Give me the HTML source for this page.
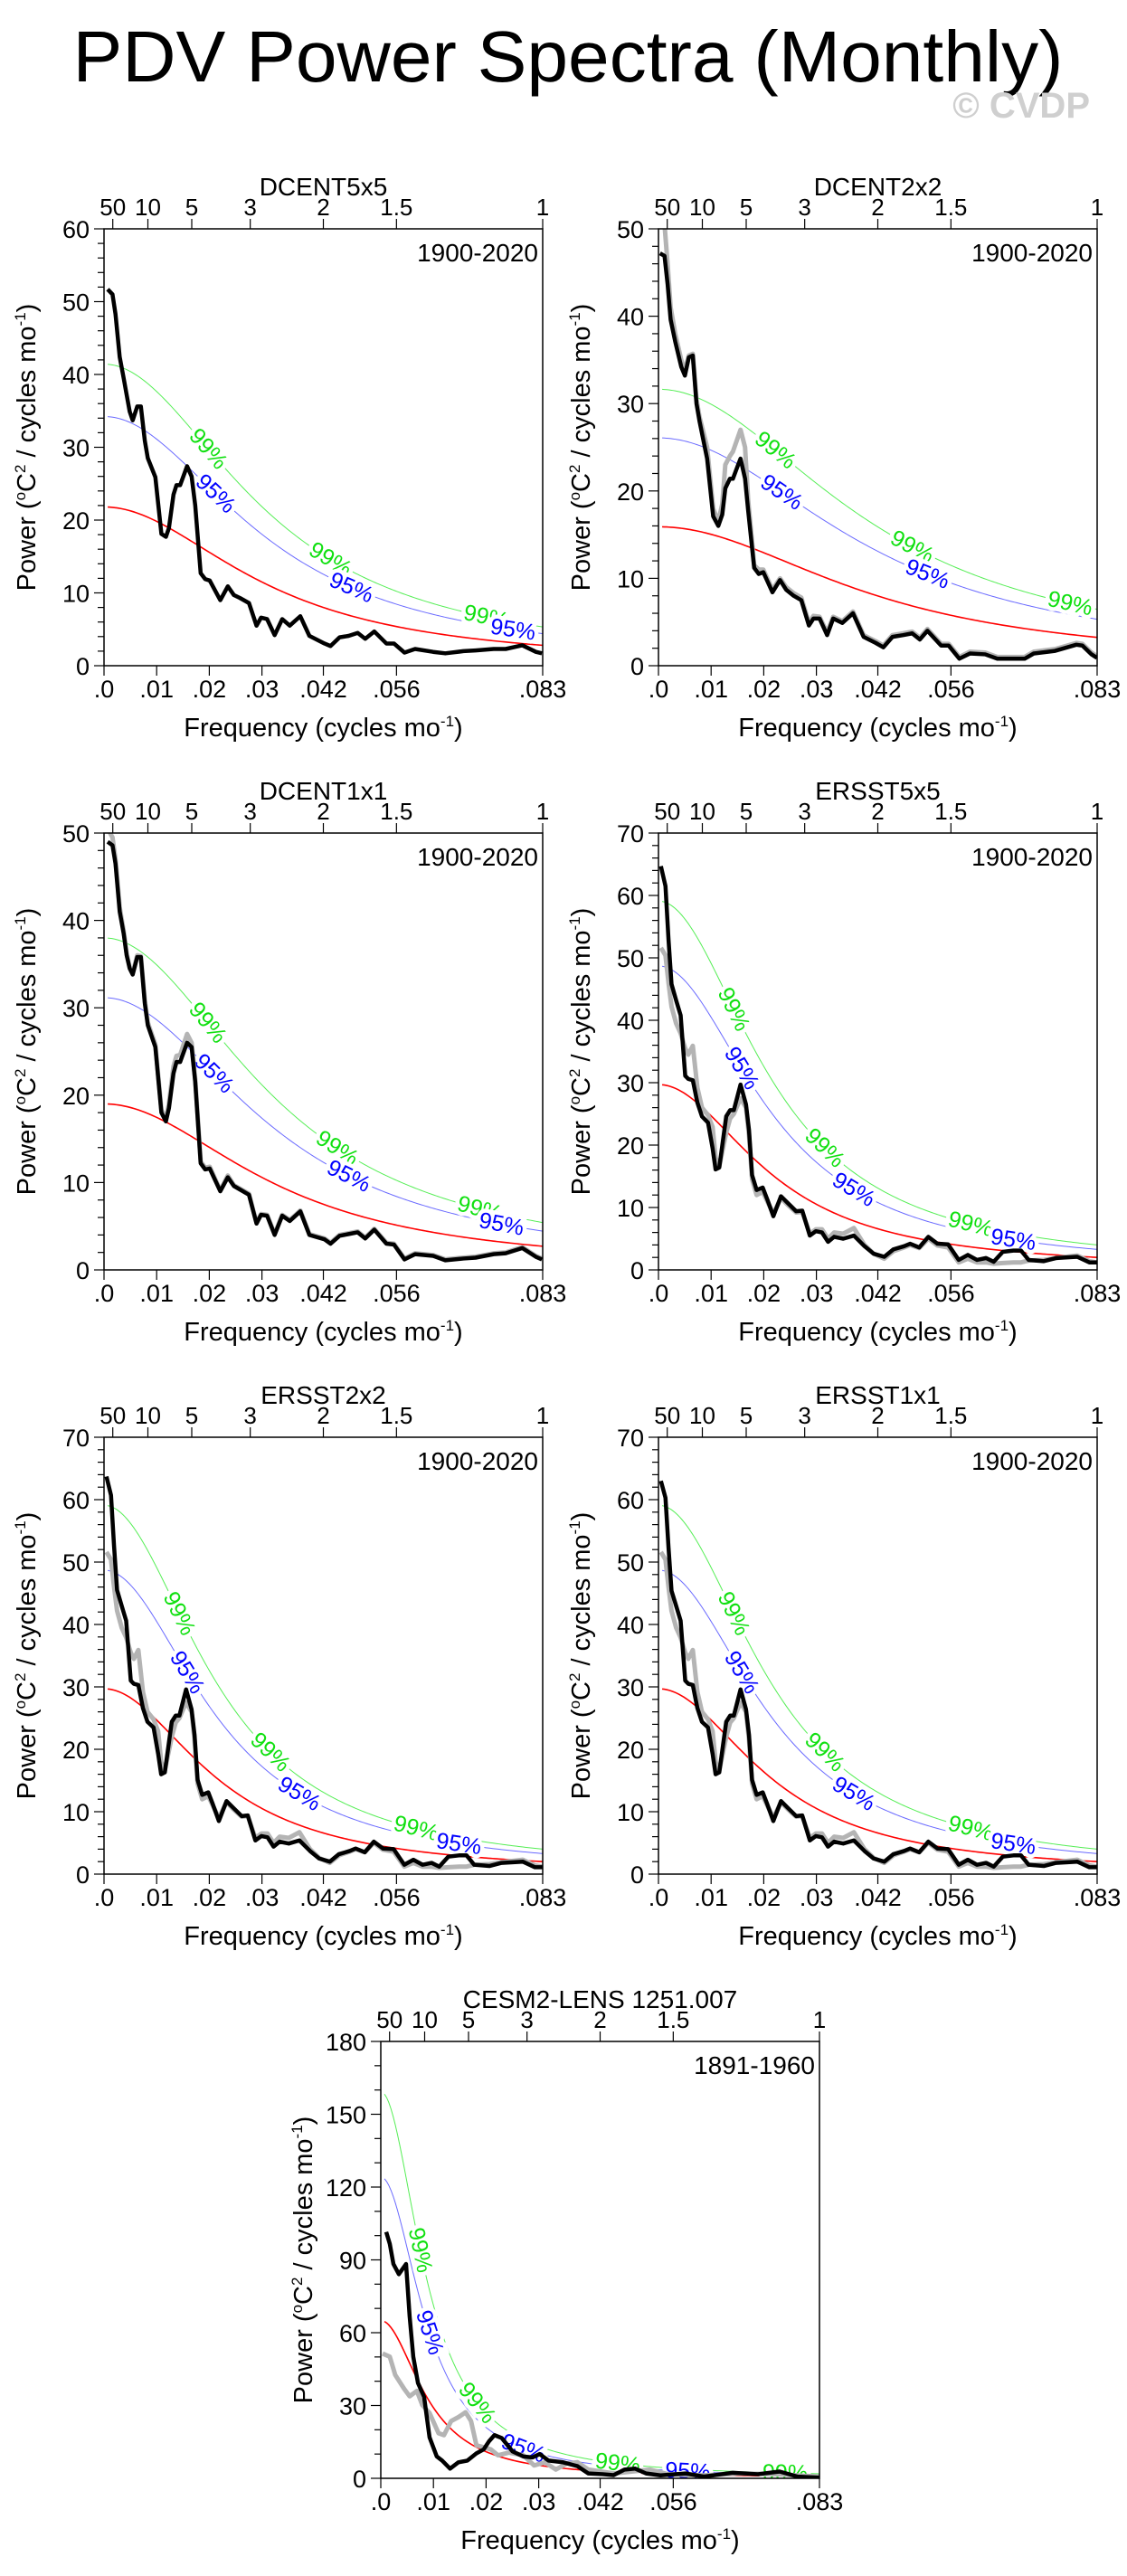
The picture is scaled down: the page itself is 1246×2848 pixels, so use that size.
<!DOCTYPE html>
<html><head><meta charset="utf-8">
<style>
html,body{margin:0;padding:0;background:#fff;}
svg{display:block;font-family:"Liberation Sans",Arial,sans-serif;}
</style></head>
<body>
<svg id="fig" xmlns="http://www.w3.org/2000/svg" width="1246" height="2848" viewBox="0 0 1246 2848">
<rect x="0" y="0" width="1246" height="2848" fill="#fff"/>
<text x="628" y="90" font-size="80" text-anchor="middle" textLength="1095" lengthAdjust="spacingAndGlyphs" fill="#000">PDV Power Spectra (Monthly)</text>
<text x="1205" y="130" font-size="40" font-weight="bold" text-anchor="end" fill="#cfcfcf">© CVDP</text>
<g id="panels"></g>
</svg>
<script>
// ---------- data ----------
const panelNames = ["DCENT5x5","DCENT2x2","DCENT1x1","ERSST5x5","ERSST2x2","ERSST1x1","CESM2-LENS 1251.007"];
const panelPeriods = ["1900-2020","1900-2020","1900-2020","1900-2020","1900-2020","1900-2020","1891-1960"];
const yMaxes = [60,50,50,70,70,70,180];
const yMajorSteps = [10,10,10,10,10,10,30];
const yMinorSteps = [2,2,2,2,2,2,10];
const xTickValues = [0,0.01,0.02,0.03,0.04167,0.05556,0.08333];
const xTickLabels = [".0",".01",".02",".03",".042",".056",".083"];
const periodTickYears = [50,10,5,3,2,1.5,1];
const periodTickLabels = ["50","10","5","3","2","1.5","1"];
const redS0 = [21.8,15.9,19,29.7,29.7,29.7,65];
const redR = [0.82,0.77,0.81,0.87,0.87,0.87,0.945];
const fac95 = [1.57,1.64,1.64,1.64,1.64,1.64,1.91];
const fac99 = [1.9,1.99,2.0,1.99,1.99,1.99,2.45];
const lab99F = [[0.0198,0.043,0.0726],[0.0222,0.0482,0.0782],[0.0197,0.0443,0.0714],[0.0143,0.0316,0.0593],[0.0143,0.0316,0.0593],[0.0143,0.0316,0.0593],[0.0075,0.0183,0.045,0.0768]];
const lab95F = [[0.0212,0.047,0.0777],[0.0234,0.0511],[0.0209,0.0465,0.0755],[0.0158,0.0371,0.0674],[0.0158,0.0371,0.0674],[0.0158,0.0371,0.0674],[0.0093,0.0271,0.0583]];

const p1Freq = [.00069,.00161,.00218,.00298,.00373,.0043,.00488,.00545,.00631,.007,.00775,.00832,.00975,.0109,.01176,.01233,.0132,.01377,.01446,.01578,.01664,.01733,.01836,.01922,.02008,.02209,.02352,.02467,.02582,.02754,.02897,.02983,.03098,.03241,.03385,.03528,.03729,.03901,.04188,.04303,.04475,.04647,.04819,.04962,.05135,.05364,.05508,.05708,.05909,.06253,.06483,.06827,.07057,.07401,.0763,.07946,.08204,.08319];
const p1Black = [51.7,51,48.3,42.4,39.5,37.2,34.9,33.7,35.6,35.6,30.9,28.5,25.9,18.1,17.7,18.9,23.5,24.8,24.8,27.4,26,22,12.7,11.9,11.7,9,10.9,9.7,9.3,8.6,5.5,6.6,6.4,4.2,6.4,5.5,6.8,4.1,3.05,2.7,3.9,4.1,4.5,3.7,4.7,3.05,3.05,1.8,2.3,1.9,1.7,2,2.1,2.3,2.3,2.8,1.9,1.7];
const p3Black = [49,48.6,46.5,41,38.5,36,34.5,33.8,35.8,35.8,30.5,28,25.5,18,17,18.5,22.5,23.8,23.8,26,25.5,21.5,12.2,11.5,11.6,9,10.6,9.6,9.2,8.6,5.3,6.3,6.2,4,6.2,5.6,6.7,4,3.5,3,3.9,4.1,4.3,3.6,4.6,3,2.9,1.2,1.8,1.6,1.1,1.3,1.4,1.8,1.9,2.5,1.5,1.2];
const p3Gray = [50.5,49.5,47,41.5,38.8,36.2,34.6,34,36,35.9,30.8,28.3,25.8,18.3,17.3,19,23.3,24.5,24.6,27,26,21.8,12.4,11.7,11.8,9.1,10.8,9.7,9.3,8.7,5.4,6.4,6.3,4.1,6.3,5.7,6.8,4.1,3.6,3.1,4,4.2,4.4,3.7,4.7,3.1,3,1.3,1.9,1.7,1.2,1.4,1.5,1.9,2,2.6,1.6,1.3];

const p2Freq = [.00029,.00115,.00173,.00231,.00318,.00433,.00502,.00577,.00652,.00722,.00779,.00924,.01039,.01137,.01212,.0127,.01357,.01414,.01501,.01559,.01645,.01703,.01818,.01905,.01992,.02165,.02309,.02425,.02569,.02713,.02858,.02944,.0306,.03204,.03319,.03493,.03695,.03897,.04128,.04272,.04445,.04647,.0482,.04965,.05109,.05369,.05513,.05715,.05917,.06206,.06437,.06783,.06956,.0713,.07534,.07938,.08053,.08226,.0833];
const p2Black = [47.2,46.9,43.7,39.6,37.1,34.2,33.2,35.3,35.5,30,28,23.7,17.1,16,17.3,20.3,21.4,21.4,22.8,23.7,21.4,17.8,11.2,10.5,10.7,8.4,9.8,8.7,8,7.5,4.6,5.4,5.4,3.5,5.4,4.9,6,3.3,2.6,2.1,3.3,3.5,3.7,3,4,2.3,2.3,0.8,1.4,1.3,0.8,0.8,0.8,1.4,1.7,2.4,2.3,1.3,0.9];
const p2Gray = [52.5,50.5,46,41,38,35,33.8,35.5,35.7,30.5,28.5,25,18,16.5,18.5,23,24,24.5,26,27,25,19,11.5,11,11,8.7,10,9,8.3,7.8,4.9,5.7,5.6,3.8,5.6,5.1,6.2,3.5,2.8,2.3,3.5,3.7,3.9,3.2,4.2,2.5,2.5,1,1.6,1.5,1,1,1,1.6,1.9,2.6,2.5,1.5,1.1];

const p4Freq = [.00046,.00133,.00191,.00248,.00335,.00421,.00508,.00566,.00652,.00739,.00826,.00941,.01028,.01085,.01155,.01287,.01362,.01432,.01559,.01663,.0172,.01778,.01865,.0198,.02067,.02182,.02327,.02471,.02615,.02731,.02875,.0299,.03106,.03221,.03337,.0351,.03712,.03914,.04087,.04289,.04463,.04665,.0478,.04953,.05126,.053,.05502,.05704,.05877,.0605,.06223,.06368,.06541,.06743,.06887,.07032,.0732,.07551,.07955,.08186,.08331];
const p4Black = [64.7,61.5,52.9,45.8,43.2,40.8,31.1,30.6,30.4,26.8,24.6,23.6,19.5,16.1,16.4,24.6,25.6,25.6,29.7,26.5,22.4,15.2,12.8,13.2,11.3,8.6,11.8,10.6,9.4,9.5,5.5,6.2,6,4.5,5.3,5,5.5,3.8,2.6,2.1,3.3,3.8,4.2,3.6,5.3,4.2,4.1,1.6,2.4,1.6,1.9,1.3,2.9,3.1,3.1,1.6,1.4,1.9,2.1,1.2,1.2];
const p4Gray = [51.6,50.4,46,42.2,39.5,37.9,35.5,34.5,35.9,29.2,26,24.8,22.9,18,16.6,22,24.3,25,27.5,26,21.5,14.5,12,12.5,11,9,11.5,10.3,9.2,9.3,5.8,6.5,6.5,5,6,5.8,6.7,4,2.6,1.8,3,3.6,4,3.5,5,3.9,3.6,1.2,1.8,1.2,1.2,1,1.1,1.2,1.2,1.5,1.6,1.9,2.3,1.4,1.2];
const p5Black = [63.7,60.7,52.5,45.5,43,40.6,31,30.5,30.3,26.6,24.4,23.5,19.3,16,16.3,24.4,25.4,25.4,29.6,26.4,22.3,15.1,12.7,13.1,11.2,8.5,11.7,10.5,9.3,9.4,5.4,6.1,5.9,4.4,5.2,4.9,5.4,3.7,2.5,2,3.2,3.7,4.1,3.5,5.2,4.1,4,1.5,2.3,1.5,1.8,1.2,2.8,3,3,1.5,1.3,1.8,2,1.1,1.1];
const p5Gray = [51.6,50.4,46,42.2,39.5,37.9,35.5,34.5,35.9,29.2,26,24.8,22.9,18,16.6,22,24.3,25,27.5,26,21.5,14.5,12,12.5,11,9,11.5,10.3,9.2,9.3,5.8,6.5,6.5,5,6,5.8,6.7,4,2.6,1.8,3,3.6,4,3.5,5,3.9,3.6,1.2,1.8,1.2,1.2,1,1.1,1.2,1.2,1.5,1.6,1.9,2.3,1.4,1.2];
const p6Black = [63,60.3,52.3,45.4,43,40.6,31,30.5,30.3,26.6,24.4,23.5,19.3,16,16.3,24.4,25.4,25.4,29.6,26.4,22.3,15.1,12.7,13.1,11.2,8.5,11.7,10.5,9.3,9.4,5.4,6.1,5.9,4.4,5.2,4.9,5.4,3.7,2.5,2,3.2,3.7,4.1,3.5,5.2,4.1,4,1.5,2.3,1.5,1.8,1.2,2.8,3,3,1.5,1.3,1.8,2,1.1,1.1];
const p6Gray = [51.6,50.4,46,42.2,39.5,37.9,35.5,34.5,35.9,29.2,26,24.8,22.9,18,16.6,22,24.3,25,27.5,26,21.5,14.5,12,12.5,11,9,11.5,10.3,9.2,9.3,5.8,6.5,6.5,5,6,5.8,6.7,4,2.6,1.8,3,3.6,4,3.5,5,3.9,3.6,1.2,1.8,1.2,1.2,1,1.1,1.2,1.2,1.5,1.6,1.9,2.3,1.4,1.2];

const p7Freq = [.00103,.00171,.0024,.00343,.0048,.00548,.00617,.00706,.00823,.00926,.01063,.01166,.01316,.01474,.01645,.01817,.01954,.02057,.02159,.02297,.02502,.02708,.0288,.03017,.03188,.03462,.03737,.03942,.04216,.04422,.04628,.04833,.05039,.05313,.05793,.06136,.06685,.07165,.07576,.07919,.0833];
const p7Black = [101.5,96.6,88.3,84.1,88.3,66.7,50.1,39.3,33.5,16.9,9,7.3,4,6.6,7.3,10.3,11.9,15.3,17.8,16.6,11.1,9,8.6,10,7.3,6.6,5,2,1.7,1.3,3.6,4,2,1.2,2,0.7,2.3,1.7,2.8,0.7,0.3];
const p7GrayFreq = [.00034,.00171,.00274,.00446,.00548,.00686,.00788,.00926,.01097,.012,.01337,.01474,.01611,.01714,.01817,.01954,.02091,.02228,.02434,.02708,.02914,.03119,.03325,.03531,.03737,.03942,.04422,.05108,.05451,.06136,.06822,.07507,.0833];
const p7Gray = [51.4,50.1,42.6,36.8,33.8,36,30.2,26.9,18.6,17.8,23.6,25.2,27.2,23.6,13.6,12.8,11.9,9.5,10.6,9.5,5.3,6.6,3.6,6.1,6.6,3.6,2,3.6,1.7,1.2,2,1.7,0.7];

const blackFreqs = [p1Freq,p2Freq,p1Freq,p4Freq,p4Freq,p4Freq,p7Freq];
const blackVals = [p1Black,p2Black,p3Black,p4Black,p5Black,p6Black,p7Black];
const grayFreqs = [null,p2Freq,p1Freq,p4Freq,p4Freq,p4Freq,p7GrayFreq];
const grayVals = [null,p2Gray,p3Gray,p4Gray,p5Gray,p6Gray,p7Gray];

// ---------- layout ----------
const layout = [[115,253],[728,253],[115,921],[728,921],[115,1589],[728,1589],[421,2257]];
const PW = 485, PH = 483, FMAX = 1/12;
const NS = "http://www.w3.org/2000/svg";
const root = document.getElementById("panels");
function mk(tag, attrs, parent){ const e=document.createElementNS(NS,tag); for(const k in attrs) e.setAttribute(k,attrs[k]); (parent||root).appendChild(e); return e; }
function redNoise(i,f){ const r=redR[i]; return redS0[i]*(1-r)*(1-r)/(1-2*r*Math.cos(2*Math.PI*f)+r*r); }

for(let i=0;i<panelNames.length;i++){
  const X0=layout[i][0], Y0=layout[i][1], ymax=yMaxes[i];
  const g = mk("g",{});
  
  
  const xs = f => X0 + f/FMAX*PW;
  const ys = v => Y0 + PH - v/ymax*PH;
  const cp = mk("clipPath",{id:"clip"+i},g); mk("rect",{x:X0,y:Y0,width:PW,height:PH},cp);
  for(let v=0; v<=ymax+1e-9; v+=yMinorSteps[i]){
    const major = Math.abs(v/yMajorSteps[i]-Math.round(v/yMajorSteps[i]))<1e-6;
    const t = mk("line",{x1:X0-(major?11:7),x2:X0,y1:ys(v),y2:ys(v),stroke:"#000","stroke-width":1.2},g);
    
    
    if(major){
      const tl = mk("text",{x:X0-16,y:ys(v)+10,"font-size":27,"text-anchor":"end",fill:"#000"},g);
      tl.textContent = String(Math.round(v));
      
      
    }
  }
  for(let k=0;k<xTickValues.length;k++){
    const x=xs(xTickValues[k]);
    const t=mk("line",{x1:x,x2:x,y1:Y0+PH,y2:Y0+PH+11,stroke:"#000","stroke-width":1.2},g);
    
    
    const tl=mk("text",{x:x,y:Y0+PH+35,"font-size":27,"text-anchor":"middle",fill:"#000"},g);
    tl.textContent=xTickLabels[k];
    
    
  }
  for(let k=0;k<periodTickYears.length;k++){
    const x=xs(1/(12*periodTickYears[k]));
    const t=mk("line",{x1:x,x2:x,y1:Y0-11,y2:Y0,stroke:"#000","stroke-width":1.2},g);
    
    
    const tl=mk("text",{x:x,y:Y0-15,"font-size":26,"text-anchor":"middle",fill:"#000"},g);
    tl.textContent=periodTickLabels[k];
    
    
  }
  const tt=mk("text",{x:X0+PW/2,y:Y0-37,"font-size":28,"text-anchor":"middle",fill:"#000"},g);
  tt.textContent=panelNames[i];
  
  
  const pt=mk("text",{x:X0+PW-5,y:Y0+36,"font-size":28,"text-anchor":"end",fill:"#000"},g);
  pt.textContent=panelPeriods[i];
  
  
  const xl=mk("text",{x:X0+PW/2,y:Y0+PH+78,"font-size":29,"text-anchor":"middle",fill:"#000"},g);
  xl.innerHTML='Frequency (cycles mo<tspan dy="-11" font-size="17">-1</tspan><tspan dy="11">)</tspan>';
  
  
  const yl=mk("text",{x:0,y:0,"font-size":29,"text-anchor":"middle",fill:"#000",transform:`translate(${X0-76},${Y0+PH/2}) rotate(-90)`},g);
  yl.innerHTML='Power (<tspan dy="-11" font-size="17">o</tspan><tspan dy="11">C</tspan><tspan dy="-11" font-size="17">2</tspan><tspan dy="11"> / cycles mo</tspan><tspan dy="-11" font-size="17">-1</tspan><tspan dy="11">)</tspan>';
  
  

  const pg = mk("g",{"clip-path":`url(#clip${i})`},g);
  const curves=[[1,"#ff0000",1.6,"red-noise-curve"],[fac95[i],"#6a6aff",1,"conf-95-curve"],[fac99[i],"#55ee55",1,"conf-99-curve"]];
  const N=200;
  for(const c of curves){
    let d="";
    for(let k=0;k<=N;k++){ const f=0.0007+(FMAX-0.0007)*k/N; d+=(k?"L":"M")+xs(f).toFixed(2)+","+ys(c[0]*redNoise(i,f)).toFixed(2); }
    const p=mk("path",{d:d,fill:"none",stroke:c[1],"stroke-width":c[2]},pg);
    
    
  }
  const labs=[[lab99F[i],fac99[i],"99%","#10e010","label-99"],[lab95F[i],fac95[i],"95%","#0000ff","label-95"]];
  for(const L of labs){
    for(const f of L[0]){
      const x=xs(f), y=ys(L[1]*redNoise(i,f));
      const dx=xs(f+0.001)-xs(f-0.001), dy=ys(L[1]*redNoise(i,f+0.001))-ys(L[1]*redNoise(i,f-0.001));
      const ang=Math.atan2(dy,dx)*180/Math.PI;
      const t=mk("text",{x:0,y:0,"font-size":25,"text-anchor":"middle","dominant-baseline":"central",fill:L[3],stroke:"#fff","stroke-width":9,"paint-order":"stroke",transform:`translate(${x.toFixed(1)},${y.toFixed(1)}) rotate(${ang.toFixed(1)})`},pg);
      t.textContent=L[2];
      
      
    }
  }
  if(grayVals[i]){
    const gf=grayFreqs[i], gv=grayVals[i];
    const pts=gv.map((v,k)=>xs(gf[k]).toFixed(2)+","+ys(v).toFixed(2)).join(" ");
    const p=mk("polyline",{points:pts,fill:"none",stroke:"#b4b4b4","stroke-width":5,"stroke-linejoin":"round"},pg);
    
    
  }
  const bf=blackFreqs[i], bv=blackVals[i];
  const bpts=bv.map((v,k)=>xs(bf[k]).toFixed(2)+","+ys(v).toFixed(2)).join(" ");
  const bl=mk("polyline",{points:bpts,fill:"none",stroke:"#000","stroke-width":4.5,"stroke-linejoin":"round"},pg);
  
  
  const fr=mk("rect",{x:X0,y:Y0,width:PW,height:PH,fill:"none",stroke:"#000","stroke-width":1.5},g);
  
  
}
</script>
</body></html>
